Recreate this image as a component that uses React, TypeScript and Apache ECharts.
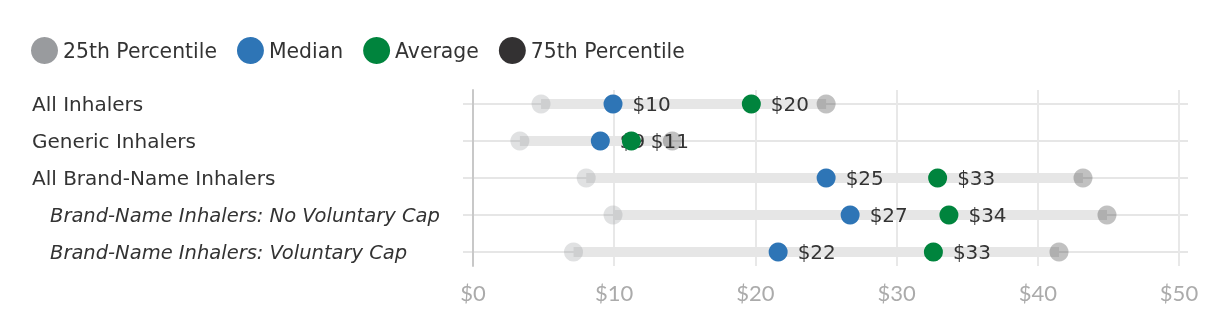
import React, { useEffect, useRef } from "react";
import * as echarts from "echarts";

const categories = [
  "All Inhalers",
  "Generic Inhalers",
  "All Brand-Name Inhalers",
  "Brand-Name Inhalers: No Voluntary Cap",
  "Brand-Name Inhalers: Voluntary Cap",
];
const italicRows = [false, false, false, true, true];
const p25 = [4.8, 3.3, 8.0, 9.9, 7.1];
const median = [9.9, 9.0, 25.0, 26.7, 21.6];
const average = [19.7, 11.2, 32.9, 33.7, 32.6];
const p75 = [25.0, 14.1, 43.2, 44.9, 41.5];
const xTicks = [0, 10, 20, 30, 40, 50];

const FONT = "'DejaVu Sans', 'Noto Sans', sans-serif";
const AXIS_FONT = "Lato, 'Noto Sans', sans-serif";

export default function App() {
  const ref = useRef<HTMLDivElement>(null);
  useEffect(() => {
    if (!ref.current) return;
    const chart = echarts.init(ref.current, null, { renderer: "svg" });
    const money = (v: number) => "$" + Math.round(v);
    const pts = (arr: number[]) => arr.map((v, i) => [v, i]);
    const dotLabel = {
      show: true,
      position: "right",
      distance: 10,
      formatter: (p: any) => money(p.value[0]),
      color: "#333",
      fontSize: 20,
      fontFamily: FONT,
    };
    chart.setOption({
      animation: false,
      textStyle: { fontFamily: FONT },
      legend: {
        left: 31,
        top: 37,
        padding: 0,
        icon: "circle",
        itemWidth: 27,
        itemHeight: 27,
        itemGap: 20,
        textStyle: { fontSize: 20.4, color: "#333", fontFamily: FONT },
        data: [
          { name: "25th Percentile", itemStyle: { color: "#999b9e", opacity: 1 } },
          { name: "Median", itemStyle: { color: "#2e75b6", opacity: 1 } },
          { name: "Average", itemStyle: { color: "#00843d", opacity: 1 } },
          { name: "75th Percentile", itemStyle: { color: "#333132", opacity: 1 } },
        ],
      },
      grid: [
        { left: 473, right: 41, top: 90, height: 176 },
        { left: 463, right: 32, top: 104, height: 148 },
      ],
      xAxis: [
        {
          gridIndex: 0,
          type: "value",
          min: 0,
          max: 50,
          interval: 10,
          axisLine: { show: false },
          axisTick: { show: false },
          splitLine: { show: true, lineStyle: { color: "#e8e8e8", width: 2 } },
          axisLabel: {
            margin: 15,
            color: "#ababab",
            fontSize: 22,
            fontFamily: AXIS_FONT,
            formatter: (v: number) => (xTicks.includes(v) ? "$" + v : ""),
          },
        },
        {
          gridIndex: 1,
          type: "value",
          min: -0.73,
          max: 50.64,
          show: false,
        },
      ],
      yAxis: [
        {
          gridIndex: 0,
          type: "value",
          min: 0,
          max: 1,
          axisLine: { show: true, lineStyle: { color: "#c8c8c8", width: 2 } },
          axisTick: { show: false },
          axisLabel: { show: false },
          splitLine: { show: false },
        },
        {
          gridIndex: 1,
          type: "category",
          inverse: true,
          boundaryGap: false,
          data: categories,
          axisLine: { show: false },
          axisTick: { show: false },
          splitLine: { show: true, lineStyle: { color: "#e6e6e6", width: 2 } },
          axisLabel: {
            align: "left",
            margin: 431,
            fontSize: 20,
            color: "#333",
            fontFamily: FONT,
            formatter: (v: string, i: number) =>
              italicRows[i] ? "{it|" + v + "}" : "{n|" + v + "}",
            rich: {
              n: { fontSize: 20, color: "#333", fontFamily: FONT },
              it: {
                fontSize: 19.5,
                color: "#333",
                fontStyle: "italic",
                fontFamily: FONT,
                padding: [0, 0, 0, 18],
              },
            },
          },
        },
      ],
      series: [
        {
          type: "custom",
          xAxisIndex: 1,
          yAxisIndex: 1,
          z: 1,
          silent: true,
          data: p25.map((v, i) => [v, p75[i], i]),
          encode: { x: [0, 1], y: 2 },
          renderItem: (params: any, api: any) => {
            const a = api.coord([api.value(0), api.value(2)]);
            const b = api.coord([api.value(1), api.value(2)]);
            return {
              type: "line",
              shape: { x1: a[0], y1: a[1], x2: b[0], y2: b[1] },
              style: { stroke: "#e6e6e6", lineWidth: 10 },
            };
          },
        },
        {
          name: "25th Percentile",
          type: "scatter",
          xAxisIndex: 1,
          yAxisIndex: 1,
          z: 2,
          symbolSize: 19,
          itemStyle: { color: "#999b9e", opacity: 0.3 },
          data: pts(p25),
        },
        {
          name: "75th Percentile",
          type: "scatter",
          xAxisIndex: 1,
          yAxisIndex: 1,
          z: 3,
          symbolSize: 19,
          itemStyle: { color: "#333132", opacity: 0.3 },
          data: pts(p75),
        },
        {
          name: "Median",
          type: "scatter",
          xAxisIndex: 1,
          yAxisIndex: 1,
          z: 4,
          symbolSize: 19,
          itemStyle: { color: "#2e75b6", opacity: 1 },
          label: dotLabel,
          data: pts(median),
        },
        {
          name: "Average",
          type: "scatter",
          xAxisIndex: 1,
          yAxisIndex: 1,
          z: 5,
          symbolSize: 19,
          itemStyle: { color: "#00843d", opacity: 1 },
          label: dotLabel,
          data: pts(average),
        },
      ],
    });
    return () => chart.dispose();
  }, []);
  return (
    <div
      ref={ref}
      style={{ position: "fixed", left: 0, top: 0, width: 1220, height: 334 }}
    />
  );
}
